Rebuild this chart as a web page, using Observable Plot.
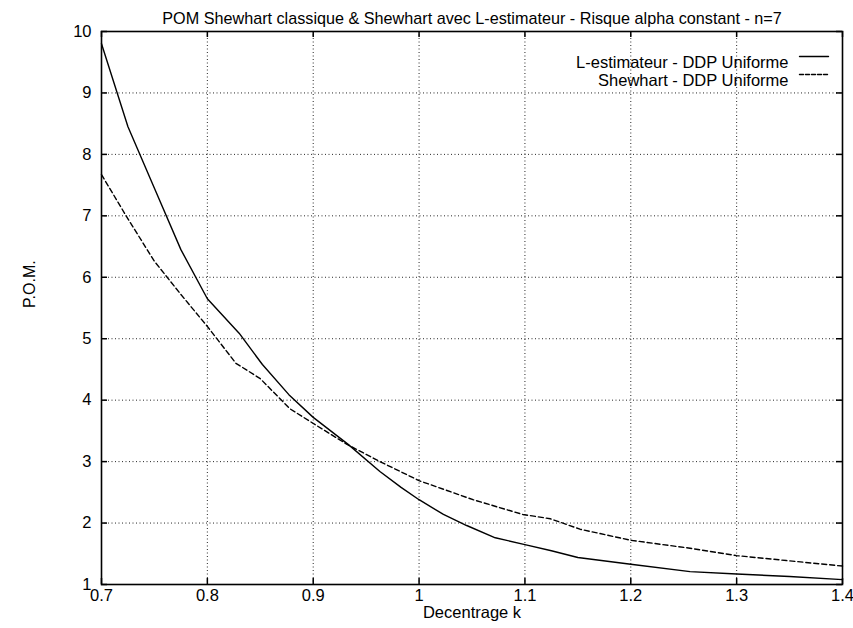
<!DOCTYPE html>
<html><head><meta charset="utf-8">
<script src="https://cdn.jsdelivr.net/npm/d3@7"></script>
<script src="https://cdn.jsdelivr.net/npm/@observablehq/plot@0.6"></script>
<style>body{margin:0;background:#fff;}</style>
</head><body><div id="chart"></div>
<script>
const titleText = "POM Shewhart classique & Shewhart avec L-estimateur - Risque alpha constant - n=7";
const xLabel = "Decentrage k";
const yLabel = "P.O.M.";
const xTicks = [0.7, 0.8, 0.9, 1.0, 1.1, 1.2, 1.3, 1.4];
const yTicks = [1, 2, 3, 4, 5, 6, 7, 8, 9, 10];
const seriesNames = ["L-estimateur - DDP Uniforme", "Shewhart - DDP Uniforme"];

// L-estimateur - DDP Uniforme (solid)
const kL = [0.70, 0.725, 0.75, 0.775, 0.80, 0.83, 0.852, 0.877, 0.90, 0.933, 0.963, 0.983, 1.00, 1.023, 1.045, 1.072, 1.10, 1.125, 1.15, 1.20, 1.256, 1.30, 1.35, 1.40];
const vL = [9.8, 8.45, 7.45, 6.45, 5.65, 5.09, 4.58, 4.09, 3.72, 3.28, 2.84, 2.58, 2.38, 2.14, 1.96, 1.76, 1.65, 1.55, 1.44, 1.33, 1.21, 1.17, 1.13, 1.08];
// Shewhart - DDP Uniforme (dashed)
const kS = [0.70, 0.725, 0.75, 0.775, 0.80, 0.827, 0.85, 0.878, 0.902, 0.932, 0.963, 1.00, 1.051, 1.098, 1.124, 1.152, 1.20, 1.256, 1.30, 1.347, 1.40];
const vS = [7.67, 6.95, 6.26, 5.72, 5.2, 4.6, 4.35, 3.86, 3.6, 3.28, 3.0, 2.69, 2.38, 2.14, 2.07, 1.9, 1.72, 1.59, 1.47, 1.39, 1.3];

const W = 853, H = 628, mL = 101, mR = 11, mT = 31, mB = 44;
const innerW = W - mL - mR, innerH = H - mT - mB;
const font = "'Liberation Sans', Arial, Helvetica, sans-serif";

const L = kL.map((k, i) => ({k, v: vL[i]}));
const S = kS.map((k, i) => ({k, v: vS[i]}));
const lineShape = {draw(context, l) { context.moveTo(0, 0); context.lineTo(0, -l); }};
const gridStyle = {stroke: "black", strokeOpacity: 0.85, strokeWidth: 1, strokeDasharray: "1,2.5"};

const plot = Plot.plot({
  width: W, height: H,
  marginLeft: mL, marginRight: mR, marginTop: mT, marginBottom: mB,
  style: {fontFamily: font, fontSize: "16px", background: "white", color: "black"},
  x: {domain: [0.7, 1.4], label: null},
  y: {domain: [1, 10], label: null},
  marks: [
    Plot.gridX(xTicks.slice(1, -1), gridStyle),
    Plot.gridY(yTicks.slice(1, -1), gridStyle),
    Plot.tickX(xTicks, {x: d => d, insetTop: innerH - 6, strokeWidth: 1.5}),
    Plot.tickX(xTicks, {x: d => d, insetBottom: innerH - 6, strokeWidth: 1.5}),
    Plot.tickY(yTicks, {y: d => d, insetRight: innerW - 6, strokeWidth: 1.5}),
    Plot.tickY(yTicks, {y: d => d, insetLeft: innerW - 6, strokeWidth: 1.5}),
    Plot.axisX(xTicks, {tickSize: 0, tickPadding: 5, tickFormat: d3.format("~g"), label: null, fontSize: 16.5}),
    Plot.axisY(yTicks, {tickSize: 0, tickPadding: 10, tickFormat: d3.format("~g"), label: null, fontSize: 16.5}),
    Plot.line(L, {x: "k", y: "v", stroke: "black", strokeWidth: 1.4}),
    Plot.line(S, {x: "k", y: "v", stroke: "black", strokeWidth: 1.4, strokeDasharray: "5,3"}),
    Plot.frame({stroke: "black", strokeWidth: 1.6}),
    Plot.text([titleText], {frameAnchor: "top", dy: -19, fontSize: 16.2}),
    Plot.text([xLabel], {frameAnchor: "bottom", dy: 33, fontSize: 16.5}),
    Plot.text([yLabel], {frameAnchor: "left", dx: -72, rotate: -90, fontSize: 16}),
    Plot.text([seriesNames[0]], {frameAnchor: "top-right", dx: -54, dy: 25, textAnchor: "end", fontSize: 16.5}),
    Plot.text([seriesNames[1]], {frameAnchor: "top-right", dx: -54, dy: 43, textAnchor: "end", fontSize: 16.5}),
    Plot.vector([seriesNames[0]], {frameAnchor: "top-right", dx: -43, dy: 25, length: 29, rotate: 90, anchor: "start", shape: lineShape, stroke: "black", strokeWidth: 1.4}),
    Plot.vector([seriesNames[1]], {frameAnchor: "top-right", dx: -43, dy: 43, length: 29, rotate: 90, anchor: "start", shape: lineShape, stroke: "black", strokeWidth: 1.4, strokeDasharray: "4,2"})
  ]
});
document.getElementById("chart").appendChild(plot);
</script>
</body></html>
